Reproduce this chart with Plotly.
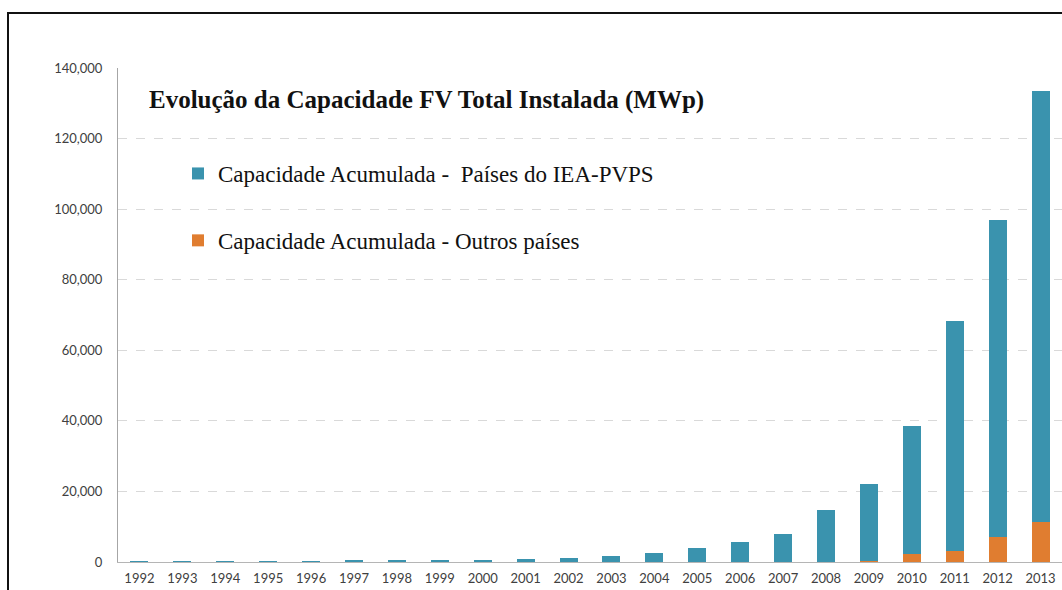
import plotly.graph_objects as go

years = [str(y) for y in range(1992, 2014)]
# Total installed capacity (MWp)
outros = [0, 0, 0, 0, 0, 0, 0, 0, 0, 0, 0, 0, 0, 0, 0, 0, 50, 400, 2400, 3100, 7100, 11400]
total = [100, 130, 160, 200, 250, 310, 380, 470, 500, 800, 1150, 1650, 2600, 3900, 5600,
         8000, 14800, 22200, 38600, 68200, 97000, 133600]
iea = [t - o for t, o in zip(total, outros)]

name_iea = "Capacidade Acumulada -  Países do IEA-PVPS"
name_out = "Capacidade Acumulada - Outros países"
title_text = "Evolução da Capacidade FV Total Instalada (MWp)"

W, H = 1062, 590
ML, MR, MT, MB = 118, 0, 68, 28
pw, ph = W - ML - MR, H - MT - MB


def px(x):
    return (x - ML) / pw


def py(y):
    return (H - MB - y) / ph


serif = "Liberation Serif, Times New Roman, serif"
sans = "Lato, Open Sans, sans-serif"

fig = go.Figure()
fig.add_trace(go.Bar(x=years, y=outros, name=name_out, legendgroup="b", legendrank=2,
                     marker=dict(color="#e07d30", line=dict(width=0))))
fig.add_trace(go.Bar(x=years, y=iea, name=name_iea, legendgroup="a", legendrank=1,
                     marker=dict(color="#3a93ae", line=dict(width=0))))

fig.update_layout(
    width=W, height=H,
    margin=dict(l=ML, r=MR, t=MT, b=MB, pad=0),
    barmode="stack", bargap=0.58,
    plot_bgcolor="white", paper_bgcolor="white",
    showlegend=True,
    legend=dict(x=px(178), y=py(152), xanchor="left", yanchor="top",
                bgcolor="rgba(0,0,0,0)", traceorder="grouped",
                tracegroupgap=34, font=dict(family=serif, size=23, color="#111111")),
    xaxis=dict(type="category", showgrid=False, showline=True, linecolor="#b5b5b5",
               linewidth=1, ticks="", tickfont=dict(family=sans, size=13, color="#404040"),
               ticklabelstandoff=4),
    yaxis=dict(range=[0, 140000], dtick=20000, tickformat=",d", showgrid=True,
               gridcolor="#d9d9d9", griddash="dash", gridwidth=1, zeroline=False,
               showline=True, linecolor="#a6a6a6", linewidth=1, ticks="",
               tickfont=dict(family=sans, size=13, color="#404040"), ticklabelstandoff=12),
    shapes=[
        dict(type="rect", xref="paper", yref="paper", x0=px(137), x1=px(697),
             y0=py(216), y1=py(73), fillcolor="white", line=dict(width=0), layer="between"),
        dict(type="rect", xref="paper", yref="paper", x0=px(8), x1=px(1080),
             y0=py(600), y1=py(13), fillcolor="rgba(0,0,0,0)",
             line=dict(color="#111111", width=2), layer="above"),
    ],
    annotations=[
        dict(text="<b>" + title_text + "</b>", xref="paper", yref="paper",
             x=px(147), y=py(100), xanchor="left", yanchor="middle", showarrow=False,
             font=dict(family=serif, size=25, color="#111111")),
    ],
)

fig.write_html("out.html", config={"displayModeBar": False},
               post_script="document.body.style.margin='0';")
